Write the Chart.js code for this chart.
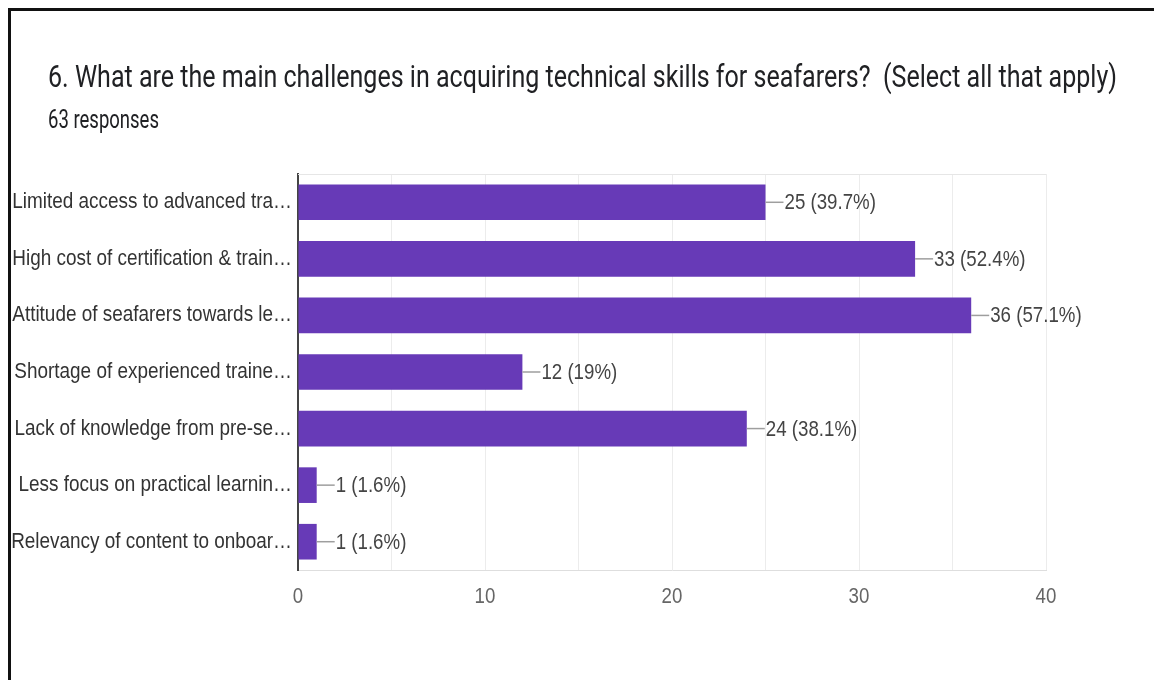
<!DOCTYPE html>
<html>
<head>
<meta charset="utf-8">
<script src="https://cdn.jsdelivr.net/npm/chart.js@4"></script>
<style>
  html, body { margin: 0; padding: 0; background: #fff; }
  body { width: 1154px; height: 680px; position: relative; overflow: hidden; }
  #frame {
    position: absolute; left: 8px; top: 8px; right: -10px; bottom: -10px;
    border-top: 3px solid #111; border-left: 3px solid #111;
  }
  #chartBox { position: absolute; left: 0; top: 0; width: 1154px; height: 680px; }
  .head {
    position: absolute; left: 48px; white-space: nowrap; line-height: 1;
    font-family: Roboto, sans-serif; color: #202124; transform-origin: 0 0;
  }
  #title { top: 60px; font-size: 32px; }
  #subtitle { top: 107px; font-size: 25px; }
</style>
</head>
<body>
<div id="chartBox"><canvas id="challengesChart" width="1154" height="680"></canvas></div>
<div id="frame"></div>
<div id="title" class="head">6. What are the main challenges in acquiring technical skills for seafarers?&nbsp; (Select all that apply)</div>
<div id="subtitle" class="head">63 responses</div>
<script>
// Answers as shown (already truncated by the form)
const categories = [
  'Limited access to advanced tra…',
  'High cost of certification & train…',
  'Attitude of seafarers towards le…',
  'Shortage of experienced traine…',
  'Lack of knowledge from pre-se…',
  'Less focus on practical learnin…',
  'Relevancy of content to onboar…'
];
const counts = [25, 33, 36, 12, 24, 1, 1];
const percents = [39.7, 52.4, 57.1, 19, 38.1, 1.6, 1.6];
const xTicks = [0, 10, 20, 30, 40];

// squeeze the header lines to their drawn widths
function fitWidth(id, w) {
  const el = document.getElementById(id);
  el.style.transform = 'scaleX(' + (w / el.getBoundingClientRect().width) + ')';
}
fitWidth('title', 1069);
fitWidth('subtitle', 111);

const LABEL_SX = 0.86;
const VALUE_SX = 0.85;

function squishText(ctx, text, x, y, align, sx) {
  ctx.save();
  ctx.translate(x, y);
  ctx.scale(sx, 1);
  ctx.textAlign = align;
  ctx.fillText(text, 0, 0);
  ctx.restore();
}

// labels, leader lines and the top edge of the plot
const labelPlugin = {
  id: 'formLabels',
  afterDraw(chart) {
    const ctx = chart.ctx;
    const area = chart.chartArea;
    const xs = chart.scales.x;
    const ys = chart.scales.y;

    ctx.save();
    ctx.strokeStyle = '#e6e6e6';
    ctx.lineWidth = 1;
    ctx.beginPath();
    ctx.moveTo(area.left, area.top + 0.5);
    ctx.lineTo(area.right, area.top + 0.5);
    ctx.stroke();

    ctx.textBaseline = 'middle';
    ctx.font = '22px "Liberation Sans", Arial, sans-serif';

    // category names
    ctx.fillStyle = '#333';
    categories.forEach((c, i) => {
      squishText(ctx, c, area.left - 6, ys.getPixelForTick(i), 'right', LABEL_SX);
    });

    // value callouts
    const meta = chart.getDatasetMeta(0);
    meta.data.forEach((bar, i) => {
      const y = bar.y;
      ctx.strokeStyle = '#9e9e9e';
      ctx.lineWidth = 1.5;
      ctx.beginPath();
      ctx.moveTo(bar.x, y);
      ctx.lineTo(bar.x + 18, y);
      ctx.stroke();
      ctx.fillStyle = '#444';
      squishText(ctx, counts[i] + ' (' + percents[i] + '%)', bar.x + 19, y + 1, 'left', VALUE_SX);
    });

    // x tick numbers
    ctx.fillStyle = '#666';
    xTicks.forEach(v => {
      squishText(ctx, String(v), xs.getPixelForValue(v), area.bottom + 27, 'center', VALUE_SX);
    });
    ctx.restore();
  }
};

const ctx = document.getElementById('challengesChart').getContext('2d');
new Chart(ctx, {
  type: 'bar',
  data: {
    labels: categories,
    datasets: [{
      data: counts,
      backgroundColor: '#673ab7',
      borderWidth: 0,
      barPercentage: 0.63,
      categoryPercentage: 1
    }]
  },
  options: {
    indexAxis: 'y',
    responsive: false,
    animation: false,
    layout: { padding: { top: 174, right: 108, bottom: 0, left: 0 } },
    plugins: {
      legend: { display: false },
      tooltip: { enabled: false }
    },
    scales: {
      x: {
        min: 0,
        max: 40,
        ticks: { display: false, stepSize: 5 },
        grid: { color: '#ececec', lineWidth: 1, drawTicks: false },
        border: { color: '#dedede', width: 1 },
        afterFit(scale) { scale.height = 110; }
      },
      y: {
        ticks: { display: false },
        grid: { display: false, drawTicks: false },
        border: { color: '#444', width: 2 },
        afterFit(scale) { scale.width = 298; }
      }
    }
  },
  plugins: [labelPlugin]
});
</script>
</body>
</html>
